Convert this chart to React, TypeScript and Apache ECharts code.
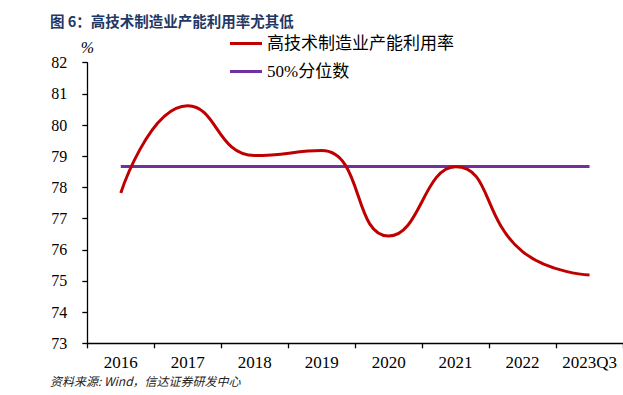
import React, { useEffect, useRef } from "react";
import * as echarts from "echarts";

const categories = ["2016", "2017", "2018", "2019", "2020", "2021", "2022", "2023Q3"];
const hiTechUtilization = [77.82, 80.62, 79.02, 79.18, 76.44, 78.66, 75.94, 75.19];
const median50 = [78.67, 78.67, 78.67, 78.67, 78.67, 78.67, 78.67, 78.67];
const seriesNames = ["高技术制造业产能利用率", "50%分位数"];
const titleText = "图 6：高技术制造业产能利用率尤其低";
const sourceText = "资料来源: Wind，信达证券研发中心";
const yMin = 73;
const yMax = 82;

export default function App() {
  const ref = useRef<HTMLDivElement>(null);
  useEffect(() => {
    if (!ref.current) return;
    const chart = echarts.init(ref.current, undefined, { renderer: "svg" });
    const serif = "Liberation Serif, Noto Sans CJK SC, serif";
    chart.setOption({
      animation: false,
      backgroundColor: "#ffffff",
      title: {
        text: titleText,
        left: 50,
        top: 13,
        padding: 0,
        textStyle: {
          fontFamily: "Noto Sans CJK SC",
          fontSize: 14.5,
          fontWeight: "bold",
          color: "#1F3864",
        },
      },
      legend: {
        orient: "vertical",
        left: 230,
        top: 35,
        padding: 0,
        itemWidth: 32,
        itemHeight: 3,
        itemGap: 11,
        icon: "rect",
        data: seriesNames,
        textStyle: { fontFamily: serif, fontSize: 17, color: "#000" },
      },
      grid: { left: 87.3, top: 62.7, width: 541.2, height: 280.6, containLabel: false },
      xAxis: {
        type: "category",
        data: categories,
        boundaryGap: true,
        axisLine: { show: true, lineStyle: { color: "#000", width: 1.3 } },
        axisTick: { show: true, interval: 0, length: 5, inside: false, lineStyle: { color: "#000", width: 1.3 } },
        axisLabel: { interval: 0, margin: 11, fontFamily: serif, fontSize: 17, color: "#000" },
        splitLine: { show: false },
      },
      yAxis: {
        type: "value",
        min: yMin,
        max: yMax,
        interval: 1,
        name: "%",
        nameLocation: "end",
        nameGap: 7,
        nameTextStyle: { fontFamily: serif, fontSize: 16, color: "#000", fontStyle: "italic", align: "center" },
        axisLine: { show: true, lineStyle: { color: "#000", width: 1.3 } },
        axisTick: { show: true, length: 5, inside: false, lineStyle: { color: "#000", width: 1.3 } },
        axisLabel: { margin: 20, fontFamily: serif, fontSize: 16, color: "#000" },
        splitLine: { show: false },
      },
      series: [
        {
          name: seriesNames[0],
          type: "line",
          data: hiTechUtilization,
          smooth: 0.5,
          symbol: "none",
          lineStyle: { color: "#C00000", width: 3 },
          itemStyle: { color: "#C00000" },
          z: 3,
        },
        {
          name: seriesNames[1],
          type: "line",
          data: median50,
          symbol: "none",
          lineStyle: { color: "#7030A0", width: 3 },
          itemStyle: { color: "#7030A0" },
          z: 2,
        },
      ],
      graphic: [
        {
          type: "text",
          left: 50,
          top: 374,
          style: {
            text: sourceText,
            fontFamily: "Noto Sans CJK SC",
            fontSize: 12,
            fontStyle: "italic",
            fill: "#222",
          },
        },
      ],
    });
    return () => chart.dispose();
  }, []);
  return (
    <div
      ref={ref}
      style={{ position: "fixed", left: 0, top: 0, width: 623, height: 395, background: "#fff" }}
    />
  );
}
